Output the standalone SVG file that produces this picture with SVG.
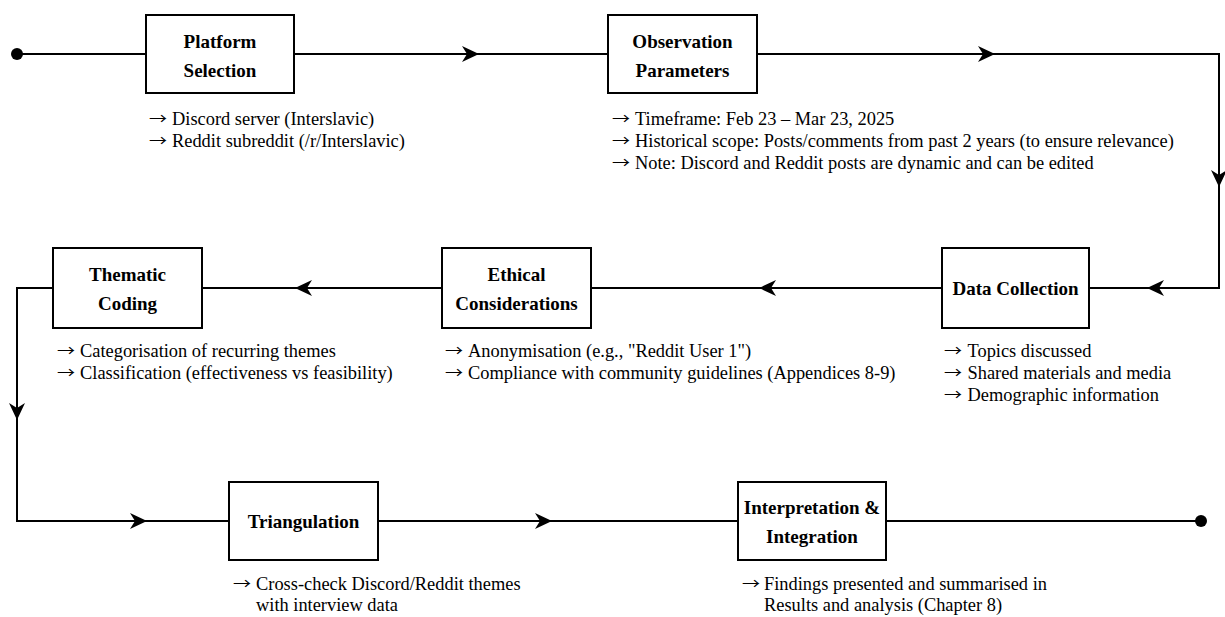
<svg xmlns="http://www.w3.org/2000/svg" xmlns:xlink="http://www.w3.org/1999/xlink" width="1225" height="617" viewBox="0 0 1225 617">
  <style>
    .box { fill: #ffffff; stroke: #000000; stroke-width: 2; }
    .title { font-family: "Liberation Serif", "Times New Roman", serif; font-size: 19px; font-weight: bold; fill: #000000; text-anchor: middle; }
    .desc { font-family: "Liberation Serif", "Times New Roman", serif; font-size: 18.4px; fill: #000000; }
    .ar { font-family: "Noto Sans CJK SC", "DejaVu Sans", sans-serif; font-size: 15px; fill: #000000; }
    .wire { fill: none; stroke: #000000; stroke-width: 2; }
  </style>
  <defs>
    <path id="ah" d="M0,0 L-17,-8 L-12,0 L-17,8 Z" fill="#000000"/>
  </defs>
  <rect width="1225" height="617" fill="#ffffff"/>

  <g id="connectors">
    <circle cx="17" cy="54" r="6" fill="#000000"/>
    <polyline class="wire" points="17,54 146,54"/>
    <polyline class="wire" points="294,54 608,54"/>
    <polyline class="wire" points="757,54 1219,54 1219,288 1089,288"/>
    <polyline class="wire" points="942,288 591,288"/>
    <polyline class="wire" points="442,288 202,288"/>
    <polyline class="wire" points="53,288 17,288 17,521 229,521"/>
    <polyline class="wire" points="378,521 738,521"/>
    <polyline class="wire" points="886,521 1201,521"/>
    <circle cx="1201" cy="521" r="6" fill="#000000"/>
    <use xlink:href="#ah" transform="translate(479,54)"/>
    <use xlink:href="#ah" transform="translate(995,54)"/>
    <use xlink:href="#ah" transform="translate(1219,187) rotate(90)"/>
    <use xlink:href="#ah" transform="translate(1147,288) rotate(180)"/>
    <use xlink:href="#ah" transform="translate(759,288) rotate(180)"/>
    <use xlink:href="#ah" transform="translate(295,288) rotate(180)"/>
    <use xlink:href="#ah" transform="translate(17,420) rotate(90)"/>
    <use xlink:href="#ah" transform="translate(147,521)"/>
    <use xlink:href="#ah" transform="translate(552,521)"/>
  </g>

  <g id="platform-selection">
    <rect class="box" x="146" y="15" width="148" height="78"/>
    <text class="title" x="220" y="48">Platform</text>
    <text class="title" x="220" y="77">Selection</text>
    <text class="ar" transform="translate(149,123.5) scale(1.2,1)">→</text>
    <text class="ar" transform="translate(149,145.5) scale(1.2,1)">→</text>
    <text class="desc" x="172" y="125">Discord server (Interslavic)</text>
    <text class="desc" x="172" y="147">Reddit subreddit (/r/Interslavic)</text>
  </g>

  <g id="observation-parameters">
    <rect class="box" x="608" y="15" width="149" height="78"/>
    <text class="title" x="682.5" y="48">Observation</text>
    <text class="title" x="682.5" y="77">Parameters</text>
    <text class="ar" transform="translate(612,123.5) scale(1.2,1)">→</text>
    <text class="ar" transform="translate(612,145.5) scale(1.2,1)">→</text>
    <text class="ar" transform="translate(612,167.5) scale(1.2,1)">→</text>
    <text class="desc" x="635" y="125">Timeframe: Feb 23 – Mar 23, 2025</text>
    <text class="desc" x="635" y="147">Historical scope: Posts/comments from past 2 years (to ensure relevance)</text>
    <text class="desc" x="635" y="169">Note: Discord and Reddit posts are dynamic and can be edited</text>
  </g>

  <g id="data-collection">
    <rect class="box" x="942" y="248" width="147" height="80"/>
    <text class="title" x="1015.5" y="294.5">Data Collection</text>
    <text class="ar" transform="translate(944,355.5) scale(1.2,1)">→</text>
    <text class="ar" transform="translate(944,377.5) scale(1.2,1)">→</text>
    <text class="ar" transform="translate(944,399.5) scale(1.2,1)">→</text>
    <text class="desc" x="967.5" y="357">Topics discussed</text>
    <text class="desc" x="967.5" y="379">Shared materials and media</text>
    <text class="desc" x="967.5" y="401">Demographic information</text>
  </g>

  <g id="ethical-considerations">
    <rect class="box" x="442" y="248" width="149" height="80"/>
    <text class="title" x="516.5" y="281">Ethical</text>
    <text class="title" x="516.5" y="310">Considerations</text>
    <text class="ar" transform="translate(445,355.5) scale(1.2,1)">→</text>
    <text class="ar" transform="translate(445,377.5) scale(1.2,1)">→</text>
    <text class="desc" x="468" y="357">Anonymisation (e.g., "Reddit User 1")</text>
    <text class="desc" x="468" y="379">Compliance with community guidelines (Appendices 8-9)</text>
  </g>

  <g id="thematic-coding">
    <rect class="box" x="53" y="248" width="149" height="80"/>
    <text class="title" x="127.5" y="281">Thematic</text>
    <text class="title" x="127.5" y="310">Coding</text>
    <text class="ar" transform="translate(57,355.5) scale(1.2,1)">→</text>
    <text class="ar" transform="translate(57,377.5) scale(1.2,1)">→</text>
    <text class="desc" x="80" y="357">Categorisation of recurring themes</text>
    <text class="desc" x="80" y="379">Classification (effectiveness vs feasibility)</text>
  </g>

  <g id="triangulation">
    <rect class="box" x="229" y="482" width="149" height="78"/>
    <text class="title" x="303.5" y="527.5">Triangulation</text>
    <text class="ar" transform="translate(233,588.5) scale(1.2,1)">→</text>
    <text class="desc" x="256" y="590">Cross-check Discord/Reddit themes</text>
    <text class="desc" x="256" y="611">with interview data</text>
  </g>

  <g id="interpretation-integration">
    <rect class="box" x="738" y="482" width="148" height="78"/>
    <text class="title" x="812" y="514">Interpretation &amp;</text>
    <text class="title" x="812" y="543">Integration</text>
    <text class="ar" transform="translate(742,588.5) scale(1.2,1)">→</text>
    <text class="desc" x="764" y="590">Findings presented and summarised in</text>
    <text class="desc" x="764" y="611">Results and analysis (Chapter 8)</text>
  </g>
</svg>
